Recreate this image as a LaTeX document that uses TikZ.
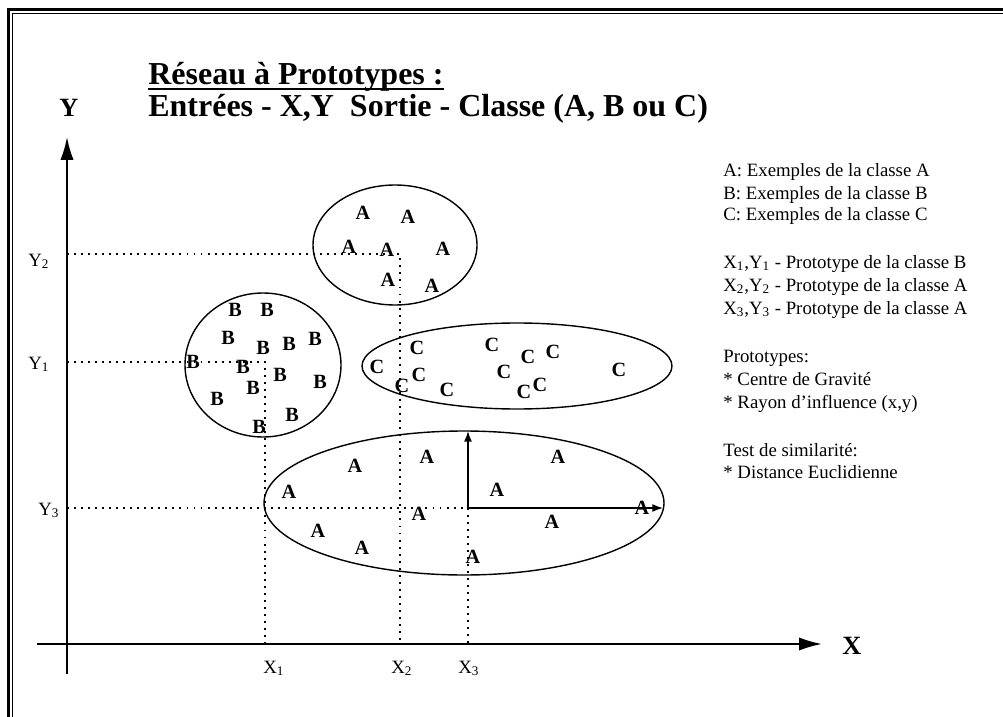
\documentclass[tikz,border=0pt]{standalone}
\usepackage{fontspec}
\setmainfont{Liberation Serif}
\usetikzlibrary{arrows.meta}

\begin{document}
\begin{tikzpicture}[x=0.2mm,y=-0.2mm,
    axe/.style={line width=1.1pt,-{Latex[length=13pt,width=7.5pt]}},
    guide/.style={line width=1.1pt,dash pattern=on 1.1pt off 2.9pt},
    groupe/.style={line width=0.8pt},
    rayon/.style={line width=0.8pt,-{Latex[length=6pt,width=4.5pt]}},
    pt/.style={font=\fontsize{11.5}{12}\selectfont\bfseries,inner sep=0pt},
    lbl/.style={font=\fontsize{10.7}{12}\selectfont,inner sep=0pt,anchor=base west},
    titre/.style={font=\fontsize{18.2}{20}\selectfont\bfseries,inner sep=0pt,anchor=base west},
    grand/.style={font=\fontsize{15}{16}\selectfont\bfseries,inner sep=0pt}]
    \useasboundingbox (0,0) rectangle (1003,717);

    % double frame, top and left
    \draw[line width=1.2pt] (8.5,717) -- (8.5,9.5) -- (1003,9.5);
    \draw[line width=0.6pt] (12.5,717) -- (12.5,13.5) -- (1003,13.5);

    % title
    \node[titre] (titre) at (148,85) {Réseau à Prototypes :};
    \draw[line width=0.9pt] ([yshift=-2.2pt]titre.base west) -- ([yshift=-2.2pt]titre.base east);
    \node[titre] (entrees) at (148,117) {Entrées - X,Y\ \ Sortie - Classe (A, B ou C)};

    % axes
    \coordinate (O) at (67,644);
    \coordinate (Ybas) at (67,674);
    \coordinate (Yhaut) at (67,137);
    \coordinate (Xdeb) at (37,644);
    \coordinate (Xfin) at (822,644);
    \draw[axe] (Ybas) -- (Yhaut);
    \draw[axe] (Xdeb) -- (Xfin);
    \node[grand] (Y) at (69,108) {Y};
    \node[grand] (X) at (852,646) {X};

    % prototypes
    \coordinate (P1) at (265,362);
    \coordinate (P2) at (400,254);
    \coordinate (P3) at (468,508);
    \draw[guide] (P1 -| O) -- (P1) -- (P1 |- O);
    \draw[guide] (P2 -| O) -- (P2) -- (P2 |- O);
    \draw[guide] (P3 -| O) -- (P3) -- (P3 |- O);

    \node[lbl] (y2) at (28,266) {Y\textsubscript{2}};
    \node[lbl] (y1) at (28,369) {Y\textsubscript{1}};
    \node[lbl] (y3) at (38,515) {Y\textsubscript{3}};
    \node[lbl] (x1) at (263,673) {X\textsubscript{1}};
    \node[lbl] (x2) at (391,673) {X\textsubscript{2}};
    \node[lbl] (x3) at (458,673) {X\textsubscript{3}};

    % groups
    \draw[groupe] (395,245) ellipse [x radius=82, y radius=60];
    \draw[groupe] (263,365) ellipse [x radius=78, y radius=72];
    \draw[groupe] (517,366) ellipse [x radius=155, y radius=43];
    \draw[groupe] (464,503) ellipse [x radius=200, y radius=72];

    % influence radius
    \coordinate (R3x) at (663,508);
    \coordinate (R3y) at (468,431);
    \draw[rayon] (P3) -- (R3y);
    \draw[rayon] (P3) -- (R3x);

    % examples
    \foreach \x/\y [count=\i] in {363/213,408/217,349/247,387/250,443/249,388/280,432/286}
        \node[pt] (ha\i) at (\x,\y) {A};
    \foreach \x/\y [count=\i] in {235/310,267/310,228/338,263/348,289/344,315/339,193/362,
        243/367,280/375,320/382,253/388,217/399,292/415,259/427}
        \node[pt] (b\i) at (\x,\y) {B};
    \foreach \x/\y [count=\i] in {377/367,417/348,492/345,528/357,553/352,619/370,419/375,
        402/386,447/390,504/372,540/385,524/392}
        \node[pt] (c\i) at (\x,\y) {C};
    \foreach \x/\y [count=\i] in {355/466,427/457,558/457,289/492,497/490,642/508,419/514,
        552/522,318/531,362/548,473/557}
        \node[pt] (ba\i) at (\x,\y) {A};

    % legend
    \foreach \y/\t [count=\i] in {177/{A: Exemples de la classe A},
        199/{B: Exemples de la classe B},
        221/{C: Exemples de la classe C},
        268/{X\textsubscript{1},Y\textsubscript{1} - Prototype de la classe B},
        291/{X\textsubscript{2},Y\textsubscript{2} - Prototype de la classe A},
        314/{X\textsubscript{3},Y\textsubscript{3} - Prototype de la classe A},
        362/{Prototypes:},
        385/{* Centre de Gravité},
        408/{* Rayon d’influence (x,y)},
        456/{Test de similarité:},
        478/{* Distance Euclidienne}}
        \node[lbl] (leg\i) at (723,\y) {\t};
\end{tikzpicture}
\end{document}
